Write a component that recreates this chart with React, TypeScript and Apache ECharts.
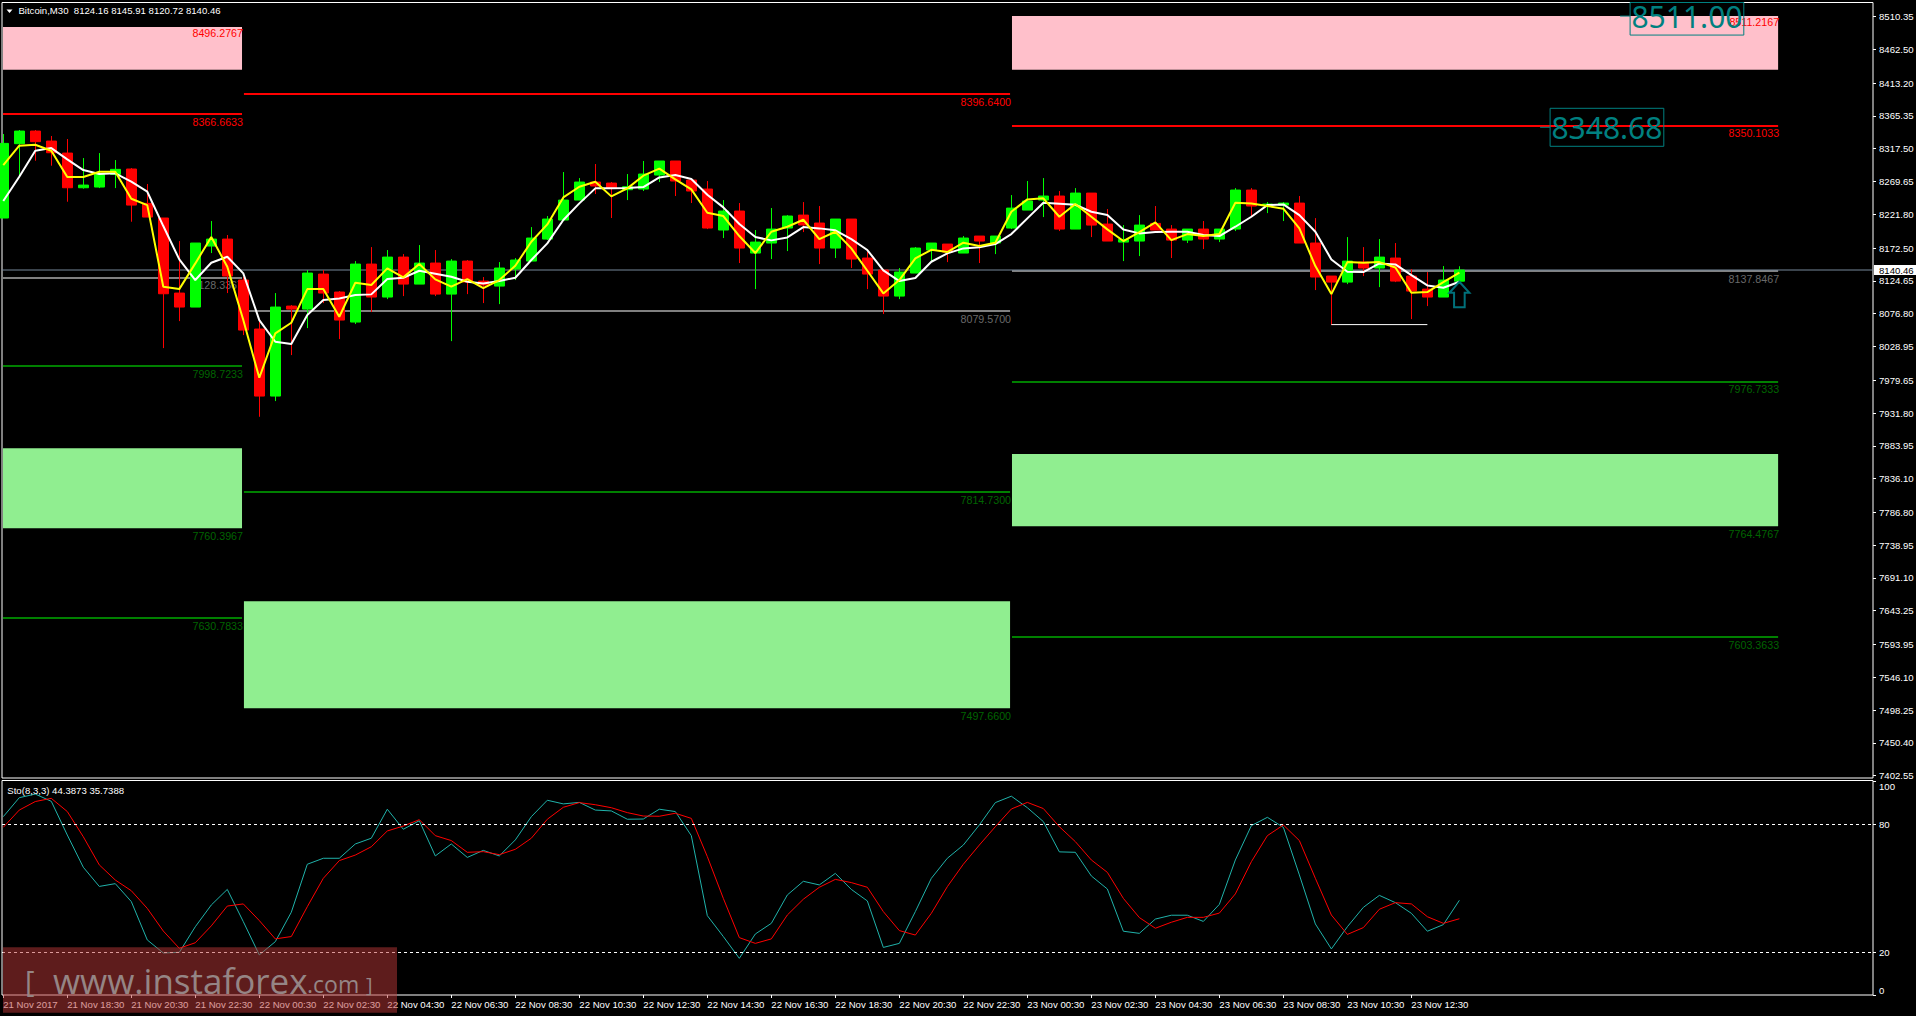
import React, { useEffect, useRef } from "react";
import * as echarts from "echarts";

// ---------- candles (21 Nov 2017 16:30 .. 23 Nov 2017 14:00, M30) ----------
const opens = [8216.3,8324.8,8343.2,8328.6,8311.1,8260.5,8261.5,8280.0,8287.8,8237.7,8216.3,8106.8,8086.4,8175.4,8185.6,8125.8,8054.3,7956.5,8087.8,8083.4,8134.5,8108.3,8064.5,8149.1,8101.0,8159.3,8119.9,8150.6,8105.3,8153.5,8124.3,8117.0,8141.8,8153.5,8185.6,8213.4,8242.5,8268.8,8267.3,8257.6,8258.6,8279.0,8299.5,8271.7,8258.6,8198.8,8226.5,8165.2,8179.8,8201.7,8220.6,8209.0,8172.5,8214.8,8157.9,8140.4,8102.4,8136.0,8169.6,8178.3,8165.2,8190.0,8179.8,8201.7,8227.9,8242.5,8248.4,8200.2,8252.7,8207.5,8181.2,8182.7,8208.5,8200.2,8184.1,8200.2,8185.6,8200.2,8257.1,8234.7,8235.2,8238.1,8179.8,8131.6,8122.8,8152.0,8143.3,8157.9,8131.6,8112.6,8101.0,8124.16];
const closes = [8325.2,8343.2,8327.7,8311.6,8260.5,8264.4,8280.0,8287.3,8235.2,8217.7,8105.8,8086.4,8179.8,8185.6,8131.6,8052.8,7956.5,8086.4,8083.4,8136.0,8106.8,8067.4,8149.1,8101.0,8159.3,8119.9,8150.6,8105.3,8153.5,8122.9,8118.5,8143.3,8155.0,8187.1,8214.8,8242.5,8268.8,8263.0,8259.6,8262.0,8280.5,8299.5,8270.3,8255.7,8201.7,8226.5,8172.5,8181.2,8200.2,8219.2,8206.1,8172.5,8214.8,8156.4,8134.5,8102.4,8137.5,8172.5,8179.8,8166.6,8187.1,8182.7,8190.0,8230.8,8241.1,8248.4,8200.2,8252.7,8206.0,8182.7,8185.1,8206.0,8198.7,8184.1,8200.2,8185.6,8200.2,8257.1,8233.8,8236.7,8238.1,8179.8,8130.2,8122.8,8153.5,8143.3,8159.3,8124.3,8109.7,8101.0,8125.8,8140.46];
const lows = [8216.3,8279.0,8299.9,8292.7,8240.1,8259.1,8260.0,8260.0,8210.9,8217.7,8026.5,8065.9,8086.4,8165.2,8106.8,8045.5,7926.3,7949.2,8016.3,8055.7,8092.2,8039.7,8061.6,8079.1,8098.0,8102.4,8119.9,8102.4,8036.7,8105.3,8092.2,8090.7,8125.8,8153.5,8184.2,8213.4,8242.5,8251.3,8216.3,8242.5,8255.7,8268.8,8248.4,8238.2,8200.2,8187.1,8150.6,8112.6,8156.4,8168.1,8195.8,8149.1,8157.9,8143.3,8112.6,8076.2,8098.0,8136.0,8152.0,8152.0,8165.2,8150.6,8163.7,8200.2,8227.9,8217.7,8197.3,8200.2,8188.5,8182.7,8153.5,8160.8,8198.7,8157.9,8179.8,8171.0,8181.2,8197.3,8217.7,8223.5,8211.9,8179.8,8111.2,8060.1,8119.9,8131.6,8115.5,8122.8,8068.8,8087.8,8101.0,8120.72];
const highs = [8338.9,8344.7,8344.7,8336.0,8331.6,8303.8,8311.1,8300.9,8289.2,8265.9,8216.3,8182.7,8179.8,8211.9,8191.5,8130.6,8065.0,8106.8,8089.3,8140.4,8140.4,8109.7,8153.5,8173.9,8169.6,8163.7,8176.9,8169.6,8156.4,8155.0,8130.2,8152.0,8157.9,8203.1,8219.2,8283.4,8274.6,8295.1,8268.8,8280.5,8299.5,8299.5,8299.5,8272.7,8270.3,8242.5,8238.2,8198.8,8230.9,8220.6,8239.6,8233.8,8214.8,8214.8,8166.6,8140.4,8143.3,8174.0,8179.8,8178.3,8190.0,8190.0,8190.0,8249.8,8270.3,8274.6,8255.7,8260.0,8252.7,8229.4,8206.0,8220.6,8233.8,8206.0,8200.2,8211.9,8200.2,8260.0,8260.0,8239.6,8239.6,8248.4,8216.2,8131.6,8188.5,8173.9,8185.6,8179.8,8141.8,8137.4,8146.2,8145.91];

// ---------- moving averages ----------
const fastMA = [8293.6,8321.8,8323.3,8314.5,8276.1,8276.1,8283.9,8283.9,8244.5,8235.2,8116.1,8112.6,8150.1,8188.5,8145.2,8067.4,7983.2,8048.0,8063.5,8112.6,8112.6,8072.3,8121.9,8118.5,8142.8,8129.7,8149.1,8126.8,8116.1,8127.2,8114.1,8125.8,8146.7,8181.7,8207.0,8246.4,8262.0,8269.3,8247.9,8259.6,8278.1,8288.3,8272.7,8258.1,8224.0,8219.2,8190.0,8165.2,8196.3,8203.6,8213.8,8185.6,8196.3,8172.0,8139.4,8106.3,8125.8,8157.4,8170.0,8166.6,8180.3,8175.4,8180.3,8225.5,8243.5,8245.0,8218.2,8236.7,8218.2,8199.7,8182.7,8195.8,8209.9,8184.1,8192.9,8190.0,8192.9,8238.6,8237.6,8233.8,8229.9,8201.2,8146.2,8105.3,8152.0,8151.1,8152.0,8144.2,8107.3,8108.2,8122.8,8136.5];
const slowMA = [8241.1,8276.6,8314.5,8318.4,8301.9,8286.3,8280.5,8281.5,8269.3,8254.7,8204.6,8155.9,8125.8,8151.1,8159.8,8135.5,8067.4,8035.8,8032.4,8074.7,8096.6,8099.0,8103.9,8104.9,8127.2,8129.2,8139.4,8135.0,8130.6,8123.3,8120.9,8124.3,8129.2,8155.0,8179.3,8213.4,8237.7,8259.6,8259.6,8260.0,8261.5,8275.6,8279.0,8273.2,8250.3,8231.8,8207.5,8188.5,8183.7,8188.0,8203.1,8201.2,8198.3,8185.6,8169.6,8139.9,8124.3,8128.7,8152.5,8164.7,8172.0,8173.5,8178.3,8192.9,8215.8,8238.6,8237.2,8235.7,8225.5,8220.6,8199.7,8193.9,8195.8,8196.3,8196.3,8191.4,8190.0,8203.6,8218.2,8235.2,8236.2,8220.6,8196.3,8155.9,8137.9,8137.4,8150.1,8148.6,8133.1,8118.0,8114.6,8123.3];

// ---------- stochastic (8,3,3) ----------
const stoMain = [83.6,92.5,94.2,90.8,75.0,59.9,50.9,52.2,43.8,25.8,19.7,20.0,32.0,42.2,49.5,34.4,18.8,25.0,38.8,61.3,64.1,64.1,70.8,73.5,87.1,77.7,81.7,65.2,70.8,64.5,67.8,65.2,72.7,83.6,91.3,89.6,90.3,86.7,86.3,82.4,82.5,87.1,86.0,74.7,37.2,27.4,17.2,28.6,33.6,46.9,53.3,51.6,57.0,49.5,44.1,22.3,24.2,39.1,54.7,64.1,70.3,79.7,90.2,93.2,87.8,81.3,67.1,66.9,55.8,49.7,29.9,28.9,35.6,37.4,37.4,34.5,42.5,63.3,79.4,83.3,78.6,56.3,33.3,21.6,32.0,41.1,46.7,43.3,38.3,29.9,33.0,44.39];
const stoSignal = [78.6,86.7,90.7,92.2,86.0,74.2,61.0,53.9,48.9,40.6,30.0,21.9,24.5,32.4,41.7,42.7,34.9,26.3,27.4,41.4,54.7,63.0,65.6,69.5,76.9,79.2,82.2,74.7,72.4,66.9,67.2,65.8,68.3,73.5,82.4,88.0,90.2,89.2,87.8,85.5,83.9,83.8,85.2,82.8,64.9,45.3,26.9,24.2,26.3,37.5,44.9,50.5,54.2,52.7,50.5,39.1,30.2,28.1,38.3,50.8,61.3,70.3,78.9,87.2,90.3,87.4,78.9,71.9,63.3,57.5,45.3,36.3,31.3,34.1,36.4,36.4,38.4,47.4,62.5,74.7,79.7,72.4,54.7,37.5,28.4,31.6,40.2,43.3,42.7,36.7,33.6,35.74];

// ---------- axes ----------
const priceTicks = [8510.35,8462.5,8413.2,8365.35,8317.5,8269.65,8221.8,8172.5,8124.65,8076.8,8028.95,7979.65,7931.8,7883.95,7836.1,7786.8,7738.95,7691.1,7643.25,7593.95,7546.1,7498.25,7450.4,7402.55];
const timeLabels = ["21 Nov 2017","21 Nov 18:30","21 Nov 20:30","21 Nov 22:30","22 Nov 00:30","22 Nov 02:30","22 Nov 04:30","22 Nov 06:30","22 Nov 08:30","22 Nov 10:30","22 Nov 12:30","22 Nov 14:30","22 Nov 16:30","22 Nov 18:30","22 Nov 20:30","22 Nov 22:30","23 Nov 00:30","23 Nov 02:30","23 Nov 04:30","23 Nov 06:30","23 Nov 08:30","23 Nov 10:30","23 Nov 12:30"];
const timeTickIdx = timeLabels.map((_, k) => k * 4);
const stoTicks = [0, 20, 80, 100];

// ---------- levels: [from candle, to candle, top, bottom] and label ----------
const sessionA = [-0.02, 14.92];
const sessionB = [15.04, 62.92];
const sessionC = [63.04, 110.92];
const supplyZones = [[sessionA[0], sessionA[1], 8495.0, 8432.7],[sessionC[0], sessionC[1], 8511.2, 8432.7]];
const supplyLabels = ["8496.2767", "8511.2167"];
const demandZones = [[sessionA[0], sessionA[1], 7880.5, 7763.8],[sessionB[0], sessionB[1], 7657.2, 7501.0],[sessionC[0], sessionC[1], 7871.8, 7766.7]];
const demandLabels = ["7760.3967", "7497.6600", "7764.4767"];
const redLevels = [[sessionA[0], sessionA[1], 8368.0],[sessionB[0], sessionB[1], 8397.2],[sessionC[0], sessionC[1], 8350.9]];
const redLabels = ["8366.6633", "8396.6400", "8350.1033"];
const greyLevels = [[sessionA[0], sessionA[1], 8129.1],[sessionB[0], sessionB[1], 8080.5],[sessionC[0], sessionC[1], 8138.6]];
const greyLabels = ["8128.3367", "8079.5700", "8137.8467"];
const greenLevels = [[sessionA[0], sessionA[1], 7999.8],[sessionA[0], sessionA[1], 7632.5],[sessionB[0], sessionB[1], 7816.3],[sessionC[0], sessionC[1], 7977.6],[sessionC[0], sessionC[1], 7604.7]];
const greenLabels = ["7998.7233", "7630.7833", "7814.7300", "7976.7333", "7603.3633"];
const bidPrice = 8140.46;
const bidLabel = "8140.46";
const swingLow = [[83, 8060.8],[89, 8060.8]];
const targetRows = [[101.67, 8511.0],[96.67, 8348.68]];
const targetLabels = ["8511.00", "8348.68"];
const arrowAnchor = [[91, 8123.3]];

const AXIS_FONT = '"Liberation Sans", sans-serif';
const AXIS_SIZE = 9.6;
const LEVEL_FONT = '10.7px "Liberation Sans", sans-serif';

function zoneSeries(rows: number[][], color: string, labels: string[], labelColor: string, mode: "top" | "bottom") {
  return {
    type: "custom", xAxisIndex: 0, yAxisIndex: 0, z: 1, silent: true, clip: false,
    data: rows,
    renderItem: (params: any, api: any) => {
      const a = api.coord([api.value(0), api.value(2)]);
      const b = api.coord([api.value(1), api.value(3)]);
      const text = labels[params.dataIndex];
      return { type: "group", children: [
        { type: "rect", shape: { x: a[0], y: a[1], width: b[0] - a[0], height: b[1] - a[1] }, style: { fill: color } },
        { type: "text", z2: 5, style: { text, x: b[0] + 1, y: mode === "top" ? a[1] + 6 : b[1] + 8, fill: labelColor, font: LEVEL_FONT, align: "right", verticalAlign: "middle" } },
      ] };
    },
  };
}

function levelSeries(rows: number[][], color: string, labels: string[], labelColor: string) {
  return {
    type: "custom", xAxisIndex: 0, yAxisIndex: 0, z: 1, silent: true, clip: false,
    data: rows,
    renderItem: (params: any, api: any) => {
      const a = api.coord([api.value(0), api.value(2)]);
      const b = api.coord([api.value(1), api.value(2)]);
      return { type: "group", children: [
        { type: "rect", shape: { x: a[0], y: Math.round(a[1]) - 1, width: b[0] - a[0], height: 2 }, style: { fill: color } },
        { type: "text", style: { text: labels[params.dataIndex], x: b[0] + 1, y: a[1] + 7.5, fill: labelColor, font: LEVEL_FONT, align: "right", verticalAlign: "middle" } },
      ] };
    },
  };
}

export default function App() {
  const ref = useRef<HTMLDivElement>(null);
  useEffect(() => {
    document.body.style.margin = "0";
    document.body.style.background = "#000";
    const chart = echarts.init(ref.current!, undefined, { renderer: "svg" });
    const candleData = opens.map((o, i) => [i, o, closes[i], lows[i], highs[i]]);
    const xBase = { type: "value", min: -0.08, max: 116.85, splitLine: { show: false }, axisLine: { show: false, onZero: false } };
    const idx = (arr: number[]) => arr.map((v, i) => [i, v]);
    chart.setOption({
      animation: false,
      backgroundColor: "#000",
      grid: [
        { left: 2, top: 2.5, width: 1871, height: 775.5, show: true, borderColor: "#fff", borderWidth: 1, backgroundColor: "#000", containLabel: false, outerBoundsMode: "none" },
        { left: 2, top: 780.5, width: 1871, height: 214.5, show: true, borderColor: "#fff", borderWidth: 1, backgroundColor: "#000", containLabel: false, outerBoundsMode: "none" },
      ],
      xAxis: [
        { ...xBase, gridIndex: 0, axisLabel: { show: false }, axisTick: { show: false } },
        { ...xBase, gridIndex: 1,
          axisTick: { show: true, length: 3, lineStyle: { color: "#fff" }, customValues: timeTickIdx },
          axisLabel: { show: true, color: "#fff", fontFamily: AXIS_FONT, fontSize: AXIS_SIZE, margin: 4, align: "left", customValues: timeTickIdx, showMinLabel: true, showMaxLabel: true, hideOverlap: false,
            formatter: (v: number) => timeLabels[Math.round(v / 4)] ?? "" } },
      ],
      yAxis: [
        { type: "value", gridIndex: 0, position: "right", min: 7399.2, max: 8530.8, splitLine: { show: false }, axisLine: { show: false, onZero: false },
          axisTick: { show: true, length: 3, lineStyle: { color: "#fff" }, customValues: priceTicks },
          axisLabel: { show: true, color: "#fff", fontFamily: AXIS_FONT, fontSize: AXIS_SIZE, margin: 6, customValues: priceTicks, formatter: (v: number) => v.toFixed(2) } },
        { type: "value", gridIndex: 1, position: "right", min: 0, max: 100.56, splitLine: { show: false }, axisLine: { show: false, onZero: false },
          axisTick: { show: true, length: 3, lineStyle: { color: "#fff" }, customValues: stoTicks },
          axisLabel: { show: true, color: "#fff", fontFamily: AXIS_FONT, fontSize: AXIS_SIZE, margin: 6, customValues: stoTicks, verticalAlignMaxLabel: "top", verticalAlignMinLabel: "bottom", formatter: (v: number) => String(v) } },
      ],
      series: [
        zoneSeries(supplyZones, "#FFC0CB", supplyLabels, "#FF0000", "top"),
        zoneSeries(demandZones, "#90EE90", demandLabels, "#006400", "bottom"),
        levelSeries(redLevels, "#FF0000", redLabels, "#FF0000"),
        levelSeries(greyLevels, "#808080", greyLabels, "#696969"),
        levelSeries(greenLevels, "#008000", greenLabels, "#006400"),
        {
          type: "custom", xAxisIndex: 0, yAxisIndex: 0, z: 1, silent: true, clip: false, data: [[0, bidPrice]],
          renderItem: (params: any, api: any) => {
            const p = api.coord([0, api.value(1)]);
            const cs = params.coordSys;
            const y = Math.round(p[1]);
            return { type: "group", children: [
              { type: "rect", shape: { x: cs.x, y: y - 0.5, width: cs.width, height: 1 }, style: { fill: "#778899" } },
              { type: "rect", shape: { x: cs.x + cs.width + 1, y: y - 5, width: 42, height: 10 }, style: { fill: "#fff" } },
              { type: "text", style: { text: bidLabel, x: cs.x + cs.width + 6, y: y + 0.5, fill: "#000", font: `${AXIS_SIZE}px ${AXIS_FONT}`, align: "left", verticalAlign: "middle" } },
            ] };
          },
        },
        {
          type: "candlestick", xAxisIndex: 0, yAxisIndex: 0, z: 2, barWidth: 11, silent: true, data: candleData,
          itemStyle: { color: "#00FF00", color0: "#FF0000", borderColor: "#00FF00", borderColor0: "#FF0000", borderWidth: 1 },
        },
        { type: "line", xAxisIndex: 0, yAxisIndex: 0, z: 3, silent: true, showSymbol: false, data: idx(slowMA), lineStyle: { color: "#FFFFFF", width: 2 } },
        { type: "line", xAxisIndex: 0, yAxisIndex: 0, z: 3, silent: true, showSymbol: false, data: idx(fastMA), lineStyle: { color: "#FFFF00", width: 2 } },
        { type: "line", xAxisIndex: 0, yAxisIndex: 0, z: 3, silent: true, showSymbol: false, data: swingLow, lineStyle: { color: "#FFFFFF", width: 1 } },
        {
          type: "custom", xAxisIndex: 0, yAxisIndex: 0, z: 4, silent: true, clip: false, data: arrowAnchor,
          renderItem: (_: any, api: any) => {
            const p = api.coord([api.value(0), api.value(1)]);
            const pts = [[0,0],[10,11],[5.3,11],[5.3,25.6],[-5.3,25.6],[-5.3,11],[-10,11]].map((d) => [p[0] + d[0], p[1] + d[1]]);
            return { type: "polygon", shape: { points: pts }, style: { fill: "none", stroke: "#00707A", lineWidth: 2 } };
          },
        },
        {
          type: "custom", xAxisIndex: 0, yAxisIndex: 0, z: 4, silent: true, clip: false, data: targetRows,
          renderItem: (params: any, api: any) => {
            const p = api.coord([api.value(0), api.value(1)]);
            const top = Math.max(p[1] - 19, params.coordSys.y);
            const bottom = p[1] + 19;
            const w = 113.7;
            return { type: "group", children: [
              { type: "line", shape: { x1: p[0] - 10, y1: p[1], x2: p[0], y2: p[1] }, style: { stroke: "#008080", lineWidth: 1 } },
              { type: "rect", shape: { x: p[0], y: top, width: w, height: bottom - top }, style: { fill: "none", stroke: "#008080", lineWidth: 1 } },
              { type: "text", style: { text: targetLabels[params.dataIndex], x: p[0] + w / 2, y: p[1] + 0.5, fill: "#008080", font: '30px "Noto Sans", sans-serif', align: "center", verticalAlign: "middle" } },
            ] };
          },
        },
        { type: "line", xAxisIndex: 1, yAxisIndex: 1, z: 3, silent: true, showSymbol: false, data: idx(stoMain), lineStyle: { color: "#20B2AA", width: 1 },
          markLine: { silent: true, symbol: ["none", "none"], label: { show: false }, lineStyle: { color: "#fff", type: [3, 3], width: 1 }, data: [{ yAxis: 80 }, { yAxis: 20 }] } },
        { type: "line", xAxisIndex: 1, yAxisIndex: 1, z: 3, silent: true, showSymbol: false, data: idx(stoSignal), lineStyle: { color: "#FF0000", width: 1 } },
      ],
      graphic: [
        { type: "polygon", z: 50, shape: { points: [[6.5, 9.5], [12.5, 9.5], [9.5, 13]] }, style: { fill: "#fff" } },
        { type: "text", z: 50, x: 18.4, y: 10.7, style: { text: "Bitcoin,M30  8124.16 8145.91 8120.72 8140.46", fill: "#fff", font: `${AXIS_SIZE}px ${AXIS_FONT}`, verticalAlign: "middle" } },
        { type: "text", z: 50, x: 7.3, y: 790, style: { text: "Sto(8,3,3) 44.3873 35.7388", fill: "#fff", font: `${AXIS_SIZE}px ${AXIS_FONT}`, verticalAlign: "middle" } },
        { type: "rect", z: 60, shape: { x: 3, y: 947.3, width: 394, height: 65.4 }, style: { fill: "rgba(188,56,56,0.5)" } },
        { type: "text", z: 61, x: 25, y: 980, style: { text: "[", fill: "#958585", font: '29px "Open Sans", sans-serif', verticalAlign: "middle" } },
        { type: "text", z: 61, x: 53, y: 980, style: { text: "www.instaforex", fill: "#958585", font: '35px "Open Sans", sans-serif', verticalAlign: "middle" } },
        { type: "text", z: 61, x: 307, y: 984, style: { text: ".com", fill: "#958585", font: '23px "Open Sans", sans-serif', verticalAlign: "middle" } },
        { type: "text", z: 61, x: 366, y: 984, style: { text: "]", fill: "#958585", font: '20px "Open Sans", sans-serif', verticalAlign: "middle" } },
      ],
    });
    return () => chart.dispose();
  }, []);
  return <div ref={ref} style={{ width: 1916, height: 1016, background: "#000" }} />;
}
